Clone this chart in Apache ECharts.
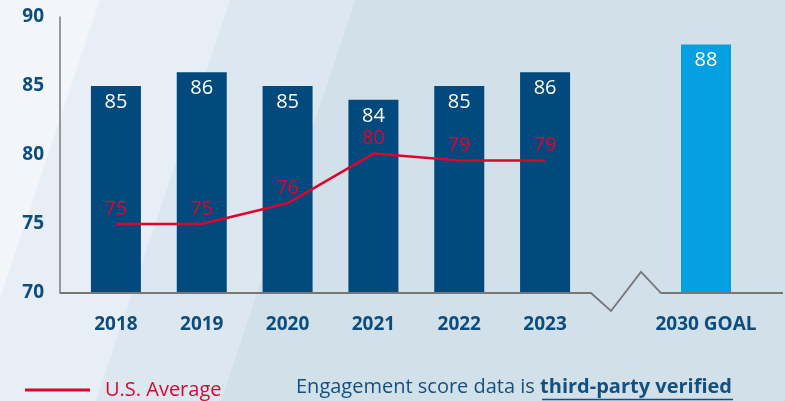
<!DOCTYPE html>
<html>
<head>
<meta charset="utf-8">
<script src="https://cdn.jsdelivr.net/npm/echarts@6/dist/echarts.min.js"></script>
<style>
  html, body { margin: 0; padding: 0; }
  #main { width: 785px; height: 401px; }
</style>
</head>
<body>
<div id="main"></div>
<script>
// data
var years = ['2018', '2019', '2020', '2021', '2022', '2023'];
var scores = [85, 86, 85, 84, 85, 86];
var goalLabel = ['2030 GOAL'];
var goalScore = [88];
var usAverage = [75, 75, 76.5, 80.1, 79.6, 79.6];
var usAverageText = ['75', '75', '76', '80', '79', '79'];
var yTicks = [70, 75, 80, 85, 90];

var darkBlue = '#024a7d';
var lightBlue = '#05a0e1';
var red = '#dc0530';
var textBlue = '#0d4c7e';
var font = '"Open Sans", "Noto Sans", sans-serif';

var chart = echarts.init(document.getElementById('main'), null, { renderer: 'canvas' });

// diagonal background stripes
function bgStripe(x0, x1, color) {
  var k = 0.335 * 401;
  return {
    type: 'polygon', z: -10, silent: true,
    shape: { points: [[x0, 0], [x1, 0], [x1 - k, 401], [x0 - k, 401]] },
    style: { fill: color }
  };
}

var option = {
  backgroundColor: '#f2f6fa',
  textStyle: { fontFamily: font },
  grid: [
    { left: 73, top: 17, width: 515, height: 276 },
    { left: 661, top: 17, width: 90, height: 276 }
  ],
  xAxis: [
    {
      type: 'category', gridIndex: 0, data: years,
      axisLine: { show: false }, axisTick: { show: false },
      axisLabel: { margin: 22, color: textBlue, fontSize: 19, fontWeight: 'bold', fontFamily: font }
    },
    {
      type: 'category', gridIndex: 1, data: goalLabel,
      axisLine: { show: false }, axisTick: { show: false },
      axisLabel: { margin: 22, color: textBlue, fontSize: 19, fontWeight: 'bold', fontFamily: font }
    }
  ],
  yAxis: [
    {
      type: 'value', gridIndex: 0, min: yTicks[0], max: yTicks[yTicks.length - 1], interval: 5,
      offset: 13,
      axisLine: { show: true, lineStyle: { color: '#7a7a7a', width: 1.5 } },
      axisTick: { show: false },
      splitLine: { show: false },
      axisLabel: { margin: 16, color: textBlue, fontSize: 19, fontWeight: 'bold', fontFamily: font }
    },
    {
      type: 'value', gridIndex: 1, min: yTicks[0], max: yTicks[yTicks.length - 1], interval: 5,
      show: false
    }
  ],
  legend: {
    data: [{ name: 'U.S. Average', itemStyle: { color: red, opacity: 1 } }],
    left: 20, top: 375,
    icon: 'rect', itemWidth: 65, itemHeight: 3,
    textStyle: { color: red, fontSize: 20, fontFamily: font, padding: [0, 0, 0, 10] }
  },
  series: [
    {
      name: 'Score', type: 'bar', xAxisIndex: 0, yAxisIndex: 0,
      data: scores, barWidth: 50,
      itemStyle: { color: darkBlue },
      label: { show: true, position: 'insideTop', distance: 6, color: '#fff', fontSize: 20, fontFamily: font }
    },
    {
      name: 'Goal', type: 'bar', xAxisIndex: 1, yAxisIndex: 1,
      data: goalScore, barWidth: 50,
      itemStyle: { color: lightBlue },
      label: { show: true, position: 'insideTop', distance: 6, color: '#fff', fontSize: 20, fontFamily: font }
    },
    {
      name: 'U.S. Average', type: 'line', xAxisIndex: 0, yAxisIndex: 0,
      data: usAverage, color: red,
      symbol: 'circle', symbolSize: 0.1, showSymbol: true, z: 5,
      itemStyle: { color: 'transparent' },
      lineStyle: { color: red, width: 2.5 },
      label: {
        show: true, position: 'top', distance: 5, color: red, fontSize: 20, fontFamily: font,
        formatter: function (p) { return usAverageText[p.dataIndex]; }
      }
    }
  ]
};
chart.setOption(option);

// baseline with axis break, placed from the axis scales
var base = chart.convertToPixel({ yAxisIndex: 0 }, yTicks[0]);
var breakX = 591;
chart.setOption({
  graphic: [
    bgStripe(100, 230, '#e7eef5'),
    bgStripe(230, 355, '#dde7f0'),
    bgStripe(355, 1000, '#d2e0ea'),
    {
      type: 'polyline', z: 3, silent: true,
      shape: { points: [[60, base], [breakX, base], [breakX + 20, base + 18], [breakX + 50, base - 21], [breakX + 70, base], [783, base]] },
      style: { stroke: '#777', lineWidth: 1.8, fill: null }
    },
    {
      type: 'text', left: 296, top: 377, silent: true,
      style: {
        text: '{a|Engagement score data is }{b|third-party verified}',
        rich: {
          a: { fontSize: 20, fontFamily: font, fill: '#14507f' },
          b: { fontSize: 20, fontFamily: font, fill: '#14507f', fontWeight: 'bold' }
        }
      }
    },
    {
      type: 'line', silent: true,
      shape: { x1: 542, y1: 399.5, x2: 733, y2: 399.5 },
      style: { stroke: '#14507f', lineWidth: 1.5 }
    }
  ]
});
</script>
</body>
</html>
